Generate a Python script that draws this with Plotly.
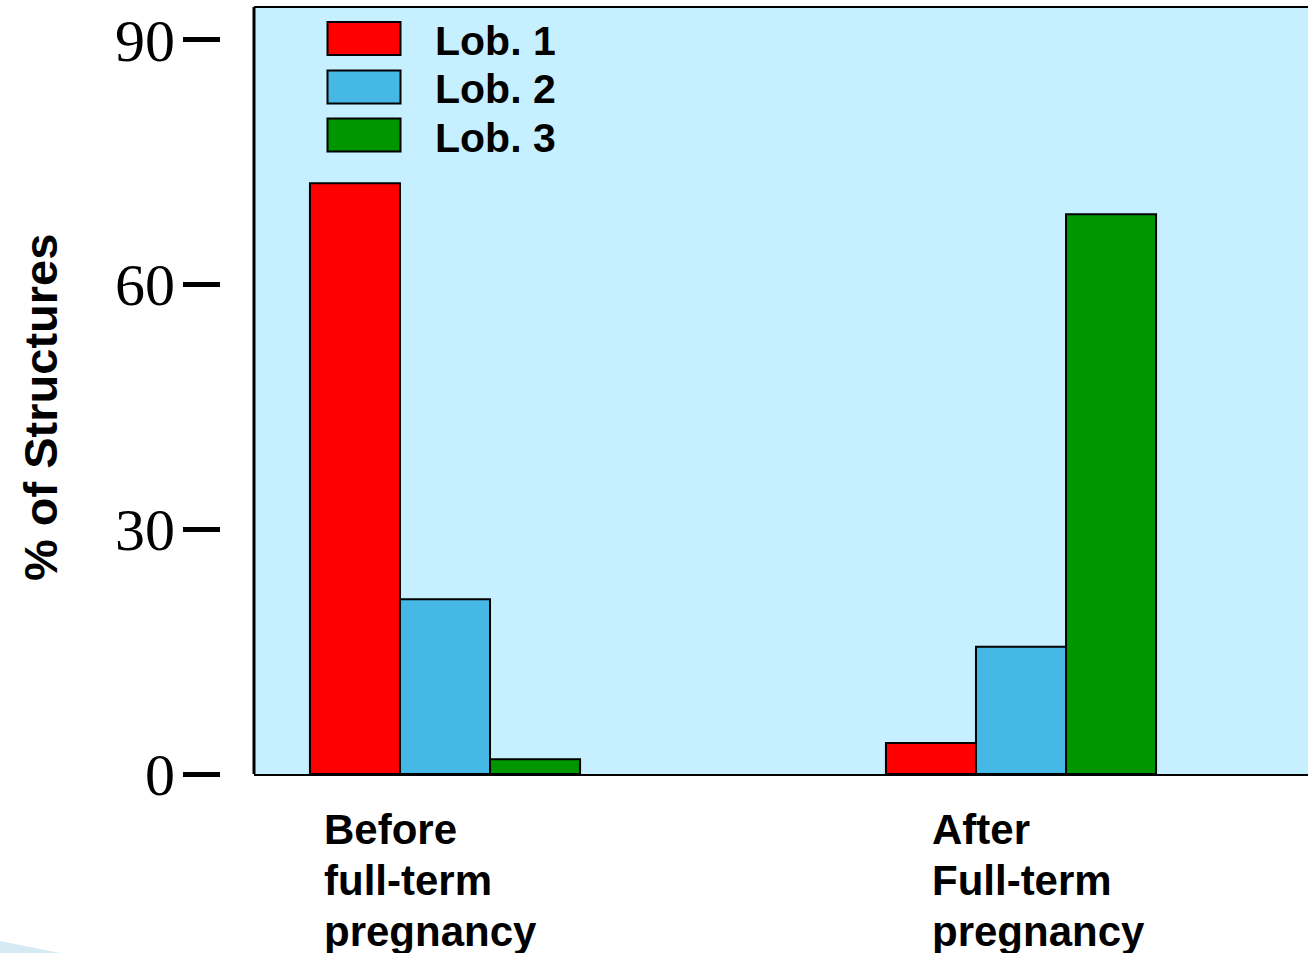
import plotly.graph_objects as go

# ---- data ----
groups = ["Before full-term pregnancy", "After Full-term pregnancy"]
group_labels = [["Before", "full-term", "pregnancy"], ["After", "Full-term", "pregnancy"]]
series_names = ["Lob. 1", "Lob. 2", "Lob. 3"]
lob1 = [72.4, 3.8]
lob2 = [21.4, 15.6]
lob3 = [1.8, 68.6]
series_values = [lob1, lob2, lob3]
colors = ["#FF0000", "#46B8E6", "#009600"]
y_ticks = [0, 30, 60, 90]

W, H = 1308, 953
L_AX = 220          # y axis (ticks) position in px
PLOT_L, PLOT_T, PLOT_B = 254, 7, 774

fig = go.Figure()
xs = list(range(len(groups)))
for name, vals, col in zip(series_names, series_values, colors):
    fig.add_trace(go.Bar(
        x=xs, y=vals, name=name, marker=dict(color=col, line=dict(color="black", width=2)),
        showlegend=False,
    ))

px_per_unit = 576.0
x0 = -(445 - PLOT_L) / px_per_unit
x1 = x0 + (W - PLOT_L) / px_per_unit

# y range so that 0 at 774 and 90 at ~39.5 px
ppu = (774 - 39.5) / 90.0
y_top = (PLOT_B - PLOT_T) / ppu

fig.update_layout(
    width=W, height=H,
    margin=dict(l=L_AX, r=0, t=PLOT_T, b=H - PLOT_B, pad=0),
    paper_bgcolor="white",
    plot_bgcolor="#C6F0FF",
    barmode="group", bargap=0.531, bargroupgap=0,
    xaxis=dict(
        domain=[(PLOT_L - L_AX) / (W - L_AX), 1], range=[x0, x1],
        showticklabels=False, ticks="", showgrid=False, zeroline=False,
        showline=True, linecolor="black", linewidth=2,
    ),
    yaxis=dict(
        range=[0, y_top], anchor="free", position=0,
        tickvals=y_ticks, ticktext=[str(v) for v in y_ticks],
        ticks="outside", ticklen=37, tickwidth=5, tickcolor="black",
        ticklabeloverflow="allow", ticklabelstandoff=-4,
        tickfont=dict(family="Liberation Serif", size=60, color="black"),
        showgrid=False, zeroline=False, showline=False,
    ),
    showlegend=False,
)

# plot frame (top and left; right side open)
fig.add_shape(type="line", xref="x domain", yref="y domain", x0=0, x1=1, y0=1, y1=1,
              line=dict(color="black", width=2))
fig.add_shape(type="line", xref="x domain", yref="y domain", x0=0, x1=0, y0=0, y1=1,
              line=dict(color="black", width=3))

plot_w = W - PLOT_L
plot_h = PLOT_B - PLOT_T
def dx(px):   # px -> x domain fraction
    return (px - PLOT_L) / plot_w
def dy(py):   # px -> y domain fraction
    return (PLOT_B - py) / plot_h
def px_paper(px):
    return (px - L_AX) / (W - L_AX)

# custom legend
box_tops = [22, 70.5, 118.5]
for i, (name, col) in enumerate(zip(series_names, colors)):
    t = box_tops[i]
    fig.add_shape(type="rect", xref="x domain", yref="y domain",
                  x0=dx(327.5), x1=dx(400.5), y0=dy(t + 33), y1=dy(t),
                  fillcolor=col, line=dict(color="black", width=2))
    fig.add_annotation(text=name, xref="x domain", yref="y domain",
                       x=dx(433), y=dy(t + 19), xanchor="left", yanchor="middle",
                       showarrow=False,
                       font=dict(family="Liberation Sans", size=41, color="black", weight="bold"))

# category labels (multi-line, left aligned)
label_x = [-(445 - 322) / px_per_unit, 1 - (1021 - 930) / px_per_unit]
line_y = [829, 880, 931]
for gx, lines in zip(label_x, group_labels):
    for ly, txt in zip(line_y, lines):
        fig.add_annotation(text=txt, xref="x", yref="paper", x=gx, y=0,
                           yshift=-(ly - PLOT_B), xanchor="left", yanchor="middle",
                           showarrow=False,
                           font=dict(family="Liberation Sans", size=42, color="black", weight="bold"))

# y axis title
fig.add_annotation(text="% of Structures", xref="paper", yref="paper",
                   x=px_paper(40), y=dy(408), xanchor="center", yanchor="middle",
                   textangle=-90, showarrow=False,
                   font=dict(family="Liberation Sans", size=47, color="black", weight="bold"))

# bottom-left decorative swoosh
fig.add_shape(type="path", xref="paper", yref="paper", layer="above",
              path=f"M {px_paper(0)} {dy(941)} L {px_paper(60)} {dy(953)} L {px_paper(0)} {dy(953)} Z",
              fillcolor="#D5EAF2", line=dict(width=0))

fig.write_html(
    "out.html",
    config={"displayModeBar": False},
    post_script="document.body.style.margin='0';document.body.style.overflow='hidden';"
                "document.documentElement.style.overflow='hidden';",
)
